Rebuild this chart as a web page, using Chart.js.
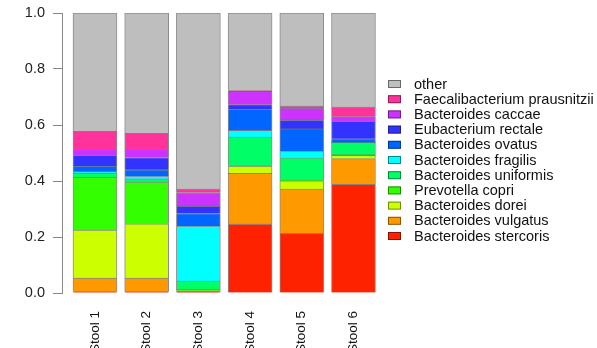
<!DOCTYPE html>
<html>
<head>
<meta charset="utf-8">
<script src="https://cdn.jsdelivr.net/npm/chart.js@4"></script>
<style>
  body { margin: 0; background: #fff; }
  #wrap { width: 597px; height: 348px; position: relative; }
</style>
</head>
<body>
<div id="wrap"><canvas id="mycanvas"></canvas></div>
<script>
const stools = ['Stool 1', 'Stool 2', 'Stool 3', 'Stool 4', 'Stool 5', 'Stool 6'];
const yTicks = [0, 0.2, 0.4, 0.6, 0.8, 1.0];

// bottom of the stack first
const stercoris = [0.005, 0.005, 0.005, 0.246, 0.213, 0.388];
const vulgatus  = [0.048, 0.048, 0.002, 0.181, 0.158, 0.092];
const dorei     = [0.172, 0.194, 0.001, 0.026, 0.030, 0.012];
const copri     = [0.188, 0.149, 0.005, 0.002, 0.002, 0.002];
const uniformis = [0.015, 0.012, 0.030, 0.102, 0.080, 0.044];
const fragilis  = [0.005, 0.008, 0.196, 0.024, 0.024, 0.001];
const ovatus    = [0.020, 0.024, 0.045, 0.076, 0.080, 0.012];
const rectale   = [0.039, 0.044, 0.026, 0.016, 0.031, 0.062];
const caccae    = [0.021, 0.029, 0.049, 0.047, 0.042, 0.017];
const faecali   = [0.064, 0.057, 0.012, 0.003, 0.008, 0.034];
const other     = [0.423, 0.430, 0.629, 0.277, 0.332, 0.336];

const series = [
    ['Bacteroides stercoris', stercoris, '#FF2200'],
    ['Bacteroides vulgatus', vulgatus, '#FF9900'],
    ['Bacteroides dorei', dorei, '#CCFF00'],
    ['Prevotella copri', copri, '#33FF00'],
    ['Bacteroides uniformis', uniformis, '#00FF66'],
    ['Bacteroides fragilis', fragilis, '#00FFFF'],
    ['Bacteroides ovatus', ovatus, '#0066FF'],
    ['Eubacterium rectale', rectale, '#3333FF'],
    ['Bacteroides caccae', caccae, '#CC33FF'],
    ['Faecalibacterium prausnitzii', faecali, '#FF3399'],
    ['other', other, '#BEBEBE'],
];

const font = 'Liberation Sans, Arial, sans-serif';

// legend drawn R-style to the right of the bars
const sideLegend = {
    id: 'sideLegend',
    afterDraw(chart) {
        const ctx = chart.ctx;
        const sets = chart.data.datasets.slice().reverse();
        ctx.save();
        ctx.font = '14.5px ' + font;
        ctx.textBaseline = 'middle';
        ctx.textAlign = 'left';
        sets.forEach((ds, i) => {
            const y = 84 + i * 15.2;
            ctx.fillStyle = ds.backgroundColor;
            ctx.fillRect(388, y - 4, 13, 8);
            ctx.strokeStyle = 'rgba(0,0,0,0.45)';
            ctx.lineWidth = 1;
            ctx.strokeRect(388.5, y - 3.5, 12, 7);
            ctx.fillStyle = '#111';
            ctx.fillText(ds.label, 414, y + 0.5);
        });
        ctx.restore();
    }
};

const mycanvas = document.getElementById('mycanvas').getContext('2d');
const chart = new Chart(mycanvas, {
    type: 'bar',
    data: {
        datasets: series.map(s => ({
            label: s[0],
            data: s[1].map((v, i) => ({ x: i, y: v })),
            backgroundColor: s[2],
            borderColor: 'rgba(0,0,0,0.45)',
            borderWidth: 1,
            barThickness: 44,
        }))
    },
    options: {
        responsive: true,
        maintainAspectRatio: false,
        animation: false,
        events: [],
        layout: {
            padding: { top: 13, right: 217, left: 0, bottom: 0 }
        },
        plugins: {
            legend: { display: false },
            tooltip: { enabled: false },
        },
        scales: {
            x: {
                type: 'linear',
                stacked: true,
                offset: false,
                min: -0.638,
                max: 5.513,
                grid: { display: false, drawTicks: false },
                border: { display: false },
                afterBuildTicks: axis => {
                    axis.ticks = stools.map((s, i) => ({ value: i }));
                },
                afterFit: s => {
                    s.height = 55;
                    s.paddingLeft = 0;
                    s.paddingRight = 0;
                },
                ticks: {
                    autoSkip: false,
                    minRotation: 90,
                    maxRotation: 90,
                    padding: 18,
                    color: '#111',
                    font: { family: font, size: 13.5 },
                    callback: v => stools[v],
                }
            },
            y: {
                stacked: true,
                min: 0,
                max: 1,
                afterBuildTicks: axis => {
                    axis.ticks = yTicks.map(v => ({ value: v }));
                },
                afterFit: s => {
                    s.width = 62;
                    s.paddingTop = 0;
                    s.paddingBottom = 0;
                },
                grid: {
                    drawOnChartArea: false,
                    drawTicks: true,
                    tickLength: 9,
                    color: '#888',
                },
                border: { display: true, color: '#888' },
                ticks: {
                    padding: 8,
                    color: '#222',
                    font: { family: font, size: 14.5 },
                    callback: v => v.toFixed(1),
                }
            }
        },
    },
    plugins: [sideLegend],
});
</script>
</body>
</html>
